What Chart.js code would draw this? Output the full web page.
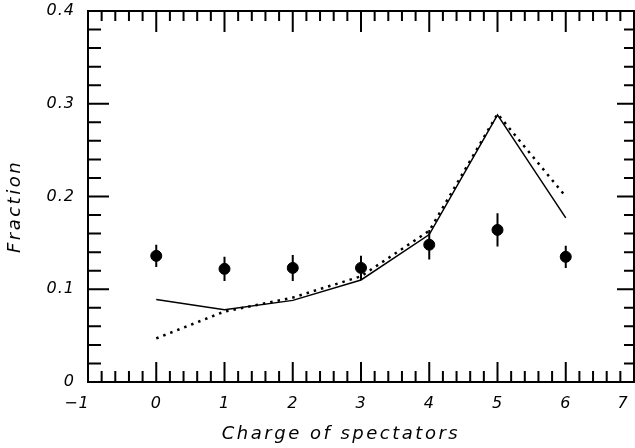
<!DOCTYPE html>
<html>
<head>
<meta charset="utf-8">
<script src="https://cdn.jsdelivr.net/npm/chart.js@4.4.1/dist/chart.umd.min.js"></script>
<style>
  html, body { margin: 0; padding: 0; background: #fff; overflow: hidden; }
  #wrap { width: 635px; height: 448px; }
</style>
</head>
<body>
<div id="wrap"><canvas id="fractionChart"></canvas></div>
<script>
// values
const charges = [0, 1, 2, 3, 4, 5, 6];
const measured = [0.136, 0.122, 0.123, 0.123, 0.148, 0.164, 0.135];
const measuredErr = [0.012, 0.013, 0.014, 0.013, 0.016, 0.018, 0.012];
const modelSolid = [0.089, 0.078, 0.088, 0.110, 0.159, 0.288, 0.177];
const modelDotted = [0.047, 0.076, 0.091, 0.114, 0.163, 0.289, 0.200];
const xTicks = [-1, 0, 1, 2, 3, 4, 5, 6, 7];
const yTicks = [0, 0.1, 0.2, 0.3, 0.4];

const labelFont = { family: "DejaVu Sans", style: "italic", size: 16 };
const titleFont = { family: "DejaVu Sans", style: "italic", size: 18 };

function pts(ys) {
    return charges.map((c, i) => ({ x: c, y: ys[i] }));
}

// the lettering in the figure is spaced out a little
const spacingPlugin = {
    id: 'spacing',
    beforeDraw(chart) { chart.ctx.letterSpacing = '1px'; },
    afterDraw(chart) { chart.ctx.letterSpacing = '0px'; }
};

// wider spacing and a small shift for the axis titles
function spaceTitle(dx, dy) {
    return function (scale) {
        if (scale._spaced) return;
        const orig = scale.drawTitle.bind(scale);
        scale.drawTitle = function () {
            const ctx = this.ctx;
            ctx.save();
            ctx.letterSpacing = '2.5px';
            ctx.translate(dx, dy);
            orig();
            ctx.restore();
        };
        scale._spaced = true;
    };
}

// frame with inward ticks on all four sides, plus error bars
const framePlugin = {
    id: 'frame',
    afterDatasetsDraw(chart) {
        const ctx = chart.ctx;
        const a = chart.chartArea;
        const xs = chart.scales.x, ys = chart.scales.y;
        ctx.save();
        ctx.strokeStyle = '#000';
        ctx.lineWidth = 2;
        ctx.strokeRect(a.left, a.top, a.right - a.left, a.bottom - a.top);
        ctx.beginPath();
        for (let i = 0; i <= 40; i++) {
            const v = -1 + i * 0.2;
            const px = xs.getPixelForValue(v);
            const major = i % 5 === 0;
            const lb = major ? 20 : 11;
            const lt = major ? 21 : 10;
            ctx.moveTo(px, a.bottom); ctx.lineTo(px, a.bottom - lb);
            ctx.moveTo(px, a.top); ctx.lineTo(px, a.top + lt);
        }
        for (let i = 0; i <= 20; i++) {
            const v = i * 0.02;
            const py = ys.getPixelForValue(v);
            const major = i % 5 === 0;
            const ll = major ? 21 : 13;
            const lr = major ? 17 : 10;
            ctx.moveTo(a.left, py); ctx.lineTo(a.left + ll, py);
            ctx.moveTo(a.right, py); ctx.lineTo(a.right - lr, py);
        }
        ctx.stroke();

        // error bars on the measured points
        ctx.beginPath();
        charges.forEach((c, i) => {
            const px = xs.getPixelForValue(c);
            ctx.moveTo(px, ys.getPixelForValue(measured[i] - measuredErr[i]));
            ctx.lineTo(px, ys.getPixelForValue(measured[i] + measuredErr[i]));
        });
        ctx.stroke();
        ctx.restore();
    }
};

new Chart(document.getElementById('fractionChart'), {
    type: 'scatter',
    data: {
        datasets: [
            {
                label: 'data',
                data: pts(measured),
                backgroundColor: '#000',
                borderColor: '#000',
                pointRadius: 5.5,
                showLine: false
            },
            {
                label: 'model solid',
                data: pts(modelSolid),
                borderColor: '#000',
                borderWidth: 1.5,
                pointRadius: 0,
                showLine: true
            },
            {
                label: 'model dotted',
                data: pts(modelDotted),
                borderColor: '#000',
                borderWidth: 2.5,
                borderDash: [2.5, 5],
                pointRadius: 0,
                showLine: true
            }
        ]
    },
    options: {
        responsive: true,
        maintainAspectRatio: false,
        animation: false,
        layout: { autoPadding: false, padding: { top: 11, right: 1, left: 0, bottom: 0 } },
        plugins: { legend: { display: false }, tooltip: { enabled: false } },
        scales: {
            x: {
                type: 'linear',
                min: -1,
                max: 7,
                afterFit(scale) {
                    scale.height = 66;
                    scale.paddingLeft = 0;
                    scale.paddingRight = 0;
                },
                afterUpdate: spaceTitle(-20, 2),
                afterBuildTicks(scale) { scale.ticks = xTicks.map(v => ({ value: v })); },
                grid: { display: false, drawTicks: false },
                border: { display: false },
                ticks: {
                    color: '#000',
                    font: labelFont,
                    padding: 12,
                    maxRotation: 0,
                    // end labels sit a little to the left of their ticks
                    callback: v => {
                        const s = v < 0 ? '\u2212' + Math.abs(v) : String(v);
                        return (v === -1 || v === 7) ? s + '\u2003\u2005' : s;
                    }
                },
                title: {
                    display: true,
                    text: 'Charge of spectators',
                    color: '#000',
                    font: titleFont,
                    padding: { top: 0, bottom: 5 }
                }
            },
            y: {
                min: 0,
                max: 0.4,
                afterFit(scale) {
                    scale.width = 88;
                    scale.paddingTop = 0;
                    scale.paddingBottom = 0;
                },
                afterUpdate: spaceTitle(0, 10),
                afterBuildTicks(scale) { scale.ticks = yTicks.map(v => ({ value: v })); },
                grid: { display: false, drawTicks: false },
                border: { display: false },
                ticks: {
                    color: '#000',
                    font: labelFont,
                    padding: 13,
                    callback: v => v === 0 ? '0' : v.toFixed(1)
                },
                title: {
                    display: true,
                    text: 'Fraction',
                    color: '#000',
                    font: titleFont,
                    padding: { top: 5, bottom: 0 }
                }
            }
        }
    },
    plugins: [spacingPlugin, framePlugin]
});
</script>
</body>
</html>
